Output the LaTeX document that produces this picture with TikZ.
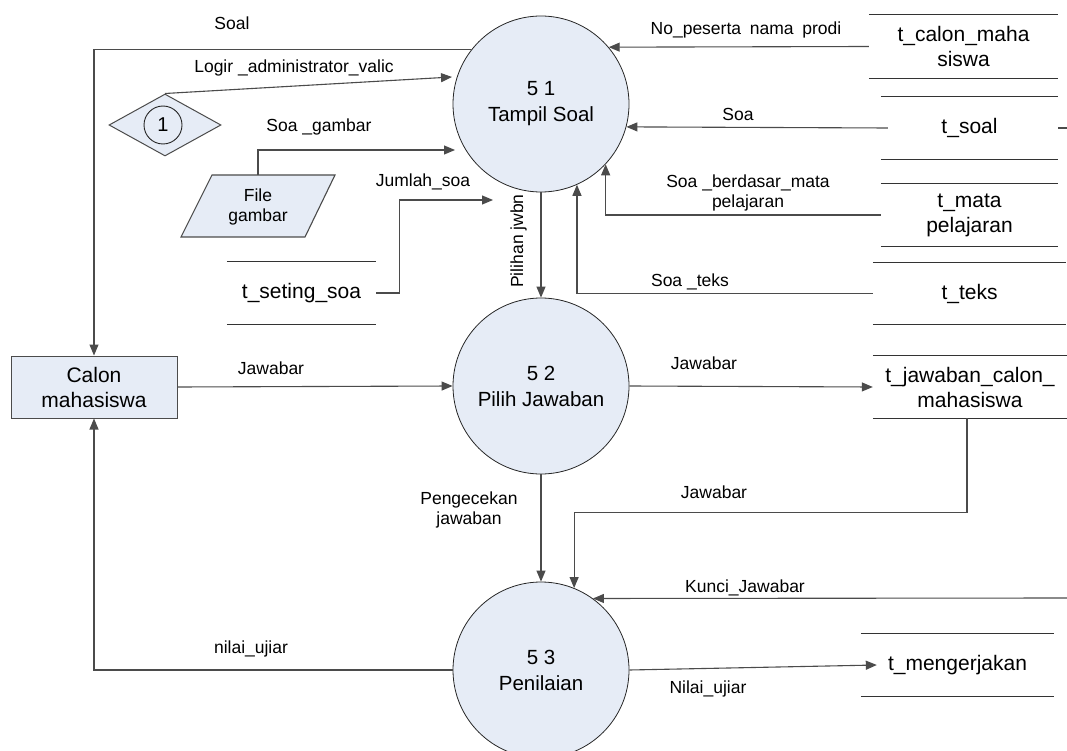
\documentclass[tikz,border=0pt]{standalone}
\usepackage{fontspec}
\setmainfont{Liberation Sans}
\usetikzlibrary{arrows.meta,shapes.geometric,calc}
\definecolor{procfill}{RGB}{230,236,246}
\definecolor{linec}{RGB}{75,75,75}
\begin{document}
\begin{tikzpicture}[x=1pt,y=-1pt,
  proc/.style={circle,draw=black!85,fill=procfill,minimum size=176pt,inner sep=0pt,align=center,font=\fontsize{20.5}{26}\selectfont,line width=0.8pt},
  store/.style={inner sep=0pt,align=center,font=\fontsize{21}{25}\selectfont},
  lbl/.style={inner sep=0pt,font=\fontsize{17.5}{21}\selectfont,anchor=base},
  mlbl/.style={inner sep=0pt,font=\fontsize{17.5}{20}\selectfont,align=center},
  flow/.style={draw=linec,line width=1.1pt,-{Triangle[length=11pt,width=9pt]}},
  plain/.style={draw=linec,line width=1.1pt},
  sline/.style={draw=black!80,line width=1pt}]
\useasboundingbox (0,0) rectangle (1067,751);

% processes
\node[proc] (c1) at (541,104) {5 1\\Tampil Soal};
\node[proc] (c2) at (541,386) {5 2\\Pilih Jawaban};
\node[proc] (c3) at (541,670) {5 3\\Penilaian};

% external entity
\node[draw=linec,fill=procfill,line width=1pt,minimum width=166pt,minimum height=62pt,inner sep=0pt,align=center,font=\fontsize{21}{25}\selectfont] (cm) at (94,387) {Calon\\mahasiswa};

% connector symbol
\node[diamond,draw=linec,fill=procfill,line width=1pt,minimum width=112pt,minimum height=62pt,inner sep=0pt,aspect=1.8] (dm) at (165,125) {};
\node[circle,draw=black!85,line width=0.9pt,minimum size=38pt,inner sep=0pt,font=\fontsize{20}{24}\selectfont] (one) at (163,125) {1};

% file gambar (parallelogram)
\draw[plain,fill=procfill] (181,237) -- (212,175) -- (335,175) -- (305,237) -- cycle;
\node[mlbl] (fg) at (258,207) {File\\gambar};
\coordinate (fgtop) at (258,175);

% data stores
\node[store,minimum width=189pt,minimum height=63pt] (tcm) at (963.5,46.5) {t\_calon\_maha\\siswa};
\node[store,minimum width=177pt,minimum height=62pt] (ts) at (969.5,128) {t\_soal};
\node[store,minimum width=177pt,minimum height=62pt] (tm) at (969.5,215) {t\_mata\\pelajaran};
\node[store,minimum width=193pt,minimum height=61pt] (tt) at (969.5,293.5) {t\_teks};
\node[store,minimum width=149pt,minimum height=62pt] (tss) at (301.5,293) {t\_seting\_soa};
\node[store,minimum width=194pt,minimum height=62pt] (tjc) at (970,387) {t\_jawaban\_calon\_\\mahasiswa};
\node[store,minimum width=193pt,minimum height=62pt] (tmg) at (957.5,665) {t\_mengerjakan};
\foreach \s in {tcm,ts,tm,tt,tss,tjc,tmg}{
  \draw[sline] (\s.north west) -- (\s.north east) (\s.south west) -- (\s.south east);
}

% free ends
\coordinate (lgEnd) at (452,77);
\coordinate (sgEnd) at (455,150);
\coordinate (jsEnd) at (493,200);
\coordinate (kjStart) at (1067,598);

% connectors
\draw[flow] (c1.142) -| (cm.north);
\draw[flow] (dm.north) -- (lgEnd);
\draw[flow] (fgtop) |- (sgEnd);
\draw[flow] (tss.east) -- ++(23,0) |- (jsEnd);
\draw[flow] (tcm.west) -- (c1.40);
\draw[flow] ([xshift=7pt]ts.west) -- (c1.-15);
\draw[plain] (ts.east) -- ++(9,0);
\draw[flow] (tm.west) -| (c1.-43.3);
\draw[flow] (tt.west) -| (c1.-66.6);
\draw[flow] (c1.south) -- (c2.north);
\draw[flow] (cm.east) -- (c2.west);
\draw[flow] (c2.east) -- (tjc.west);
\draw[flow] ([xshift=-3pt]tjc.south) -- ++(0,94) -| (c3.68.7);
\draw[flow] (c2.south) -- (c3.north);
\draw[flow] (kjStart) -- (c3.54.9);
\draw[flow] (c3.west) -| (cm.south);
\draw[flow] (c3.east) -- ([xshift=16pt]tmg.west);

% labels
\node[lbl] (lSoal) at (232,30) {Soal};
\node[lbl] (lLog) at (294,73) {Logir \_administrator\_valic};
\node[lbl] (lSg) at (319,132) {Soa \_gambar};
\node[lbl] (lJs) at (423,187) {Jumlah\_soa};
\node[lbl,rotate=90] (lPj) at (523,241) {Pilihan jwbn};
\node[lbl] (lNo) at (746,35) {No\_peserta\enspace nama\enspace prodi};
\node[lbl] (lSoa) at (738,121) {Soa};
\node[mlbl] (lSbm) at (748,193) {Soa \_berdasar\_mata\\pelajaran};
\node[lbl] (lSt) at (690,286) {Soa \_teks};
\node[lbl] (lJ1) at (271,374) {Jawabar};
\node[lbl] (lJ2) at (704,369) {Jawabar};
\node[lbl] (lJ3) at (714,498) {Jawabar};
\node[mlbl] (lPg) at (469,510) {Pengecekan\\jawaban};
\node[lbl] (lKj) at (745,592) {Kunci\_Jawabar};
\node[lbl] (lNu1) at (251,653) {nilai\_ujiar};
\node[lbl] (lNu2) at (708,693) {Nilai\_ujiar};
\end{tikzpicture}
\end{document}
